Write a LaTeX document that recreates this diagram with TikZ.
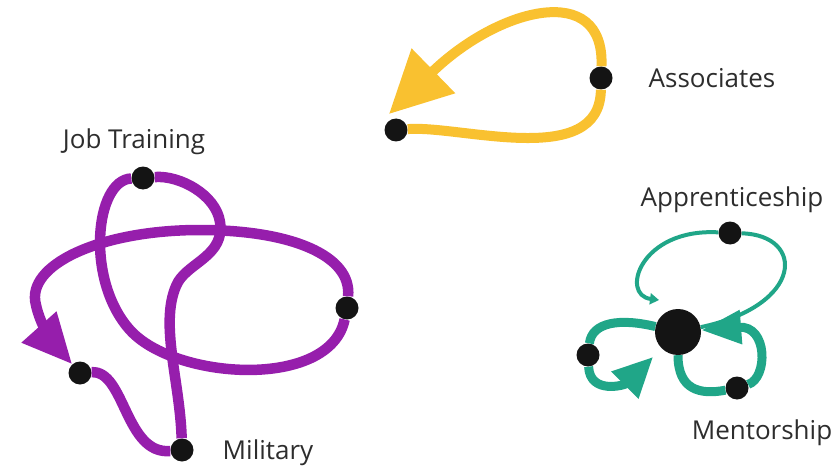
\documentclass[tikz,border=0pt]{standalone}
\usepackage{fontspec}
\setmainfont{Open Sans}
\usetikzlibrary{arrows.meta}
\definecolor{AssocYellow}{RGB}{249,193,48}
\definecolor{MilPurple}{RGB}{150,30,172}
\definecolor{AppTeal}{RGB}{32,166,136}
\definecolor{TextGray}{RGB}{45,45,45}
\tikzset{
    dot/.style={circle,fill=black!92,minimum size=23pt,inner sep=0pt},
    hubdot/.style={circle,fill=black!92,minimum size=46pt,inner sep=0pt},
    tagtext/.style={text=TextGray,anchor=base,font=\fontsize{26}{30}\selectfont},
    assocline/.style={AssocYellow,line width=10pt},
    milline/.style={MilPurple,line width=10.5pt},
    appthick/.style={AppTeal,line width=9pt},
    appthin/.style={AppTeal,line width=4pt}
}
\begin{document}
\begin{tikzpicture}[x=1pt,y=-1pt]
\useasboundingbox (0,0) rectangle (835,468);

% dots
\node[dot] (yl) at (396,130) {};
\node[dot] (yr) at (601,78) {};
\node[dot] (pj) at (143,178) {};
\node[dot] (pr) at (347,308) {};
\node[dot] (pl) at (80,373) {};
\node[dot] (pm) at (182,450) {};
\node[hubdot] (hub) at (678,332) {};
\node[dot] (ap) at (730,233) {};
\node[dot] (ld) at (588,355) {};
\node[dot] (mt) at (737,388) {};
\coordinate (aptip) at (659,300);
\coordinate (ytip) at (389,114);

% associates
\draw[assocline] (yl) .. controls (460,125) and (600,170) .. (yr);
\draw[assocline,-{Triangle[length=62pt,width=60pt]}] (yr) .. controls (605,-20) and (498,8) .. (ytip);

% military
\draw[milline] (pl) .. controls (125,370) and (125,455) .. (pm);
\draw[milline] (pm) .. controls (180,380) and (158,320) .. (178,282) .. controls (190,262) and (225,255) .. (220,222) .. controls (216,195) and (180,175) .. (pj);
\draw[milline] (pj) .. controls (95,180) and (85,280) .. (130,330) .. controls (175,380) and (330,390) .. (pr);
\draw[milline,-{Triangle[length=50pt,width=44pt]}] (pr) .. controls (352,255) and (290,230) .. (200,230) .. controls (100,230) and (25,265) .. (36,305) .. controls (40,325) and (55,345) .. (pl);

% apprenticeship / mentorship
\draw[appthin,-{Triangle[length=9pt,width=11pt]}] (ap) .. controls (640,228) and (620,295) .. (aptip);
\draw[appthin] (ap) .. controls (805,235) and (805,305) .. (hub);
\draw[appthick] (hub) .. controls (678,390) and (700,395) .. (mt);
\draw[appthick,-{Triangle[length=40pt,width=32pt]}] (mt) .. controls (768,378) and (768,325) .. (hub);
\draw[appthick] (hub) .. controls (620,318) and (592,322) .. (ld);
\draw[appthick,-{Triangle[length=40pt,width=36pt]},shorten >=12pt] (ld) .. controls (590,395) and (625,385) .. (hub);

% labels
\node[tagtext] (tassoc) at (712,88) {Associates};
\node[tagtext] (tjob) at (134,148) {Job Training};
\node[tagtext] (tapp) at (732,206) {Apprenticeship};
\node[tagtext] (tment) at (762,439) {Mentorship};
\node[tagtext] (tmil) at (268,459) {Military};
\end{tikzpicture}
\end{document}
